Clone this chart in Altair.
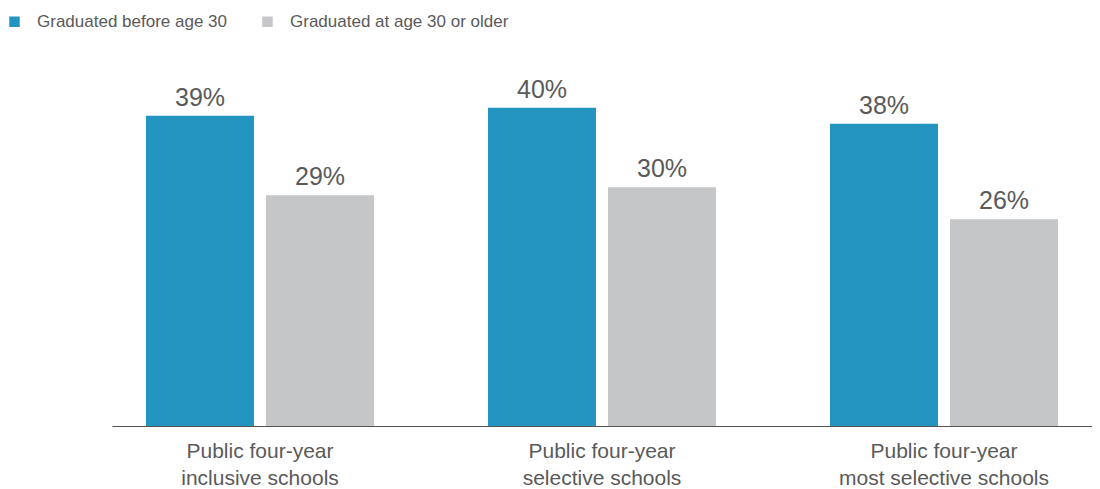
import altair as alt
import pandas as pd

categories = ["Public four-year|inclusive schools",
              "Public four-year|selective schools",
              "Public four-year|most selective schools"]
series = ["Graduated before age 30", "Graduated at age 30 or older"]
before_30 = [39, 40, 38]
after_30 = [29, 30, 26]

rows = []
for c, a, b in zip(categories, before_30, after_30):
    rows.append({"category": c, "series": series[0], "value": a, "label": f"{a}%"})
    rows.append({"category": c, "series": series[1], "value": b, "label": f"{b}%"})
df = pd.DataFrame(rows)

FONT = "Liberation Sans"
TXT = "#5a5a5a"

x = alt.X("category:N", sort=categories, title=None,
          scale=alt.Scale(paddingInner=0.3333, paddingOuter=0.0994),
          axis=alt.Axis(labelAngle=0, labelExpr="split(datum.label, '|')",
                        labelFontSize=21, labelColor=TXT, labelFont=FONT,
                        labelLineHeight=27, labelPadding=14, ticks=False,
                        domainColor="#555555", domainWidth=1, labelLimit=400))
xoff = alt.XOffset("series:N", sort=series,
                   scale=alt.Scale(paddingInner=0.1, paddingOuter=0))
y = alt.Y("value:Q", scale=alt.Scale(domain=[0, 45]), axis=None)

bars = alt.Chart(df).mark_bar().encode(
    x=x, xOffset=xoff, y=y,
    color=alt.Color("series:N", sort=series,
                    scale=alt.Scale(domain=series, range=["#2494c0", "#c5c6c8"]),
                    legend=alt.Legend(title=None, orient="none", direction="horizontal",
                                      legendX=-106, legendY=-55,
                                      symbolType="square", symbolSize=110,
                                      symbolStrokeWidth=0, labelFontSize=17,
                                      labelFont=FONT, labelColor=TXT,
                                      labelOffset=14, columnPadding=32, padding=0,
                                      labelLimit=400)),
)

labels = alt.Chart(df).mark_text(baseline="alphabetic", dy=-10, fontSize=25,
                                 font=FONT, color=TXT).encode(
    x=x, xOffset=xoff, y=y, text="label:N")

chart = (bars + labels).properties(
    width=980, height=358,
    autosize=alt.AutoSizeParams(type="none"),
    padding={"left": 104, "top": 60, "right": 0, "bottom": 65},
    background="white",
).configure_view(strokeWidth=0)

chart.save("out.html", embed_options={"renderer": "svg", "actions": False})
